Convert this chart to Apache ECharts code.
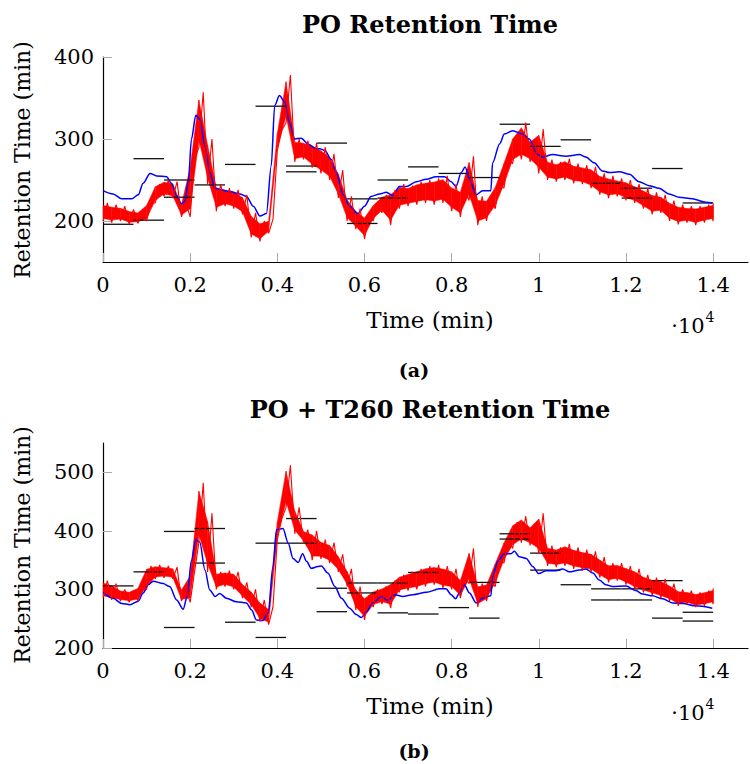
<!DOCTYPE html>
<html>
<head>
<meta charset="utf-8">
<title>Retention Time</title>
<script src="https://cdn.jsdelivr.net/npm/echarts@6/dist/echarts.min.js"></script>
<style>
html,body{margin:0;padding:0;background:#fff;}
#chart{width:750px;height:764px;}
</style>
</head>
<body>
<div id="chart"></div>
<script>
// tick values
var xTicks = [0, 2000, 4000, 6000, 8000, 10000, 12000, 14000];
var xTickLabels = ['0', '0.2', '0.4', '0.6', '0.8', '1', '1.2', '1.4'];
var yTicksA = [200, 300, 400];
var yTicksB = [200, 300, 400, 500];

// blue curve, PO  [time, value]
var blueA = [[0,237],[230,233],[430,227],[660,227],[810,232],[920,246],[1080,258],[1230,255],[1460,254],[1570,246],
  [1690,231],[1800,221],[1880,224],[1960,250],[2030,300],[2130,329],[2220,324],[2340,291],[2450,259],[2570,240],
  [2720,238],[2910,236],[3140,233],[3290,230],[3450,218],[3600,206],[3750,209],[3860,267],[3940,341],[4050,353],
  [4170,345],[4280,320],[4400,300],[4550,301],[4700,294],[4900,288],[4970,288],[5090,286],[5240,275],[5350,259],
  [5510,232],[5660,218],[5850,209],[6000,218],[6150,230],[6350,233],[6500,235],[6650,231],[6800,242],[6960,242],
  [7190,248],[7420,251],[7640,254],[7840,254],[7990,248],[8100,242],[8220,259],[8310,266],[8410,251],[8560,232],
  [8710,237],[8900,237],[8940,271],[9100,294],[9210,306],[9400,310],[9630,306],[9780,300],[9970,281],[10090,278],
  [10320,281],[10620,279],[10930,281],[11080,278],[11270,271],[11460,261],[11620,259],[11850,260],[12080,257],[12300,248],
  [12530,243],[12760,240],[12990,233],[13220,229],[13520,227],[13830,223],[13980,222]];

// blue curve, PO + T260
var blueB = [[0,295],[230,285],[430,276],[620,274],[810,280],[920,294],[1040,308],[1150,314],[1380,310],[1530,305],
  [1690,282],[1840,266],[1930,288],[2030,350],[2130,385],[2220,381],[2340,333],[2450,299],[2570,288],[2680,293],
  [2830,285],[3060,279],[3290,277],[3410,265],[3520,248],[3670,247],[3790,260],[3900,339],[3980,402],[4130,404],
  [4250,379],[4360,353],[4480,346],[4580,361],[4670,348],[4780,336],[4930,339],[5010,340],[5160,328],[5320,305],
  [5470,285],[5660,268],[5810,257],[5930,252],[6040,262],[6190,277],[6380,288],[6540,281],[6690,291],[6880,288],
  [7110,291],[7420,295],[7720,301],[7870,301],[7990,291],[8090,284],[8180,294],[8290,308],[8410,294],[8560,277],
  [8710,285],[8900,289],[8940,322],[9060,348],[9210,361],[9360,361],[9440,365],[9550,356],[9710,353],[9860,339],
  [10000,327],[10170,332],[10390,332],[10550,335],[10700,330],[10930,333],[11080,335],[11240,328],[11390,316],[11540,308],
  [11690,305],[12000,306],[12230,298],[12380,292],[12610,289],[12840,284],[13070,277],[13300,276],[13600,272],[13980,268]];

// red measured band, read every 200 min (low / high edge)
var redLoA = [200,198,200,196,197,200,222,230,228,205, 205,290,245,212,218,215,208,180,175,185,
  286,320,272,275,265,258,250,228,200,190, 178,200,210,195,215,218,220,222,220,222,
  212,205,225,195,200,215,240,270,275,272, 258,250,248,250,246,245,240,232,228,230,
  225,222,215,208,210,200,196,198,195,198, 200];
var redHiA = [222,220,218,214,212,222,245,250,248,222, 275,357,300,245,240,238,232,210,200,202,
  310,378,300,298,295,290,282,262,230,215, 208,222,232,238,245,243,248,250,252,255,
  245,240,279,230,228,245,275,305,320,300, 312,275,272,276,270,268,266,258,255,252,
  250,245,240,235,232,225,220,218,218,220, 222];
var redLoB = [285,282,280,278,280,300,318,320,318,280, 278,380,330,300,305,300,285,270,245,240,
  385,440,395,380,350,352,345,330,305,265, 248,270,275,268,295,298,300,305,308,302,
  300,285,310,270,280,305,345,370,380,375, 360,340,338,340,335,332,330,320,312,315,
  308,300,295,290,285,280,272,275,270,272, 275];
var redHiB = [315,310,300,298,305,340,342,340,338,302, 330,482,430,330,332,330,312,300,282,270,
  420,512,440,402,400,385,380,360,335,305, 290,300,305,315,325,330,335,340,342,340,
  335,320,370,310,312,350,385,415,425,410, 430,375,372,378,372,368,365,355,345,345,
  340,335,325,320,318,310,300,298,295,298, 302];

// horizontal segments, one per 700 min window
var segEdges = [0,700,1400,2100,2800,3500,4200,4900,5600,6300,7000,7700,8400,9100,9800,10500,11200,11900,12600,13300,14000];
var seg1A = [196,276,250,244,269,340,267,295,227,250,266,258,253,318,291,299,246,240,264,222];
var seg2A = [null,201,229,null,null,null,260,null,197,228,null,null,null,null,null,null,null,228,null,null];
var seg1B = [306,330,399,404,244,379,421,302,311,311,329,269,312,395,362,308,301,301,315,261];
var seg2B = [null,null,235,345,null,218,379,262,294,260,258,null,251,386,333,null,282,282,251,246];

var serif = "'DejaVu Serif', serif";
var redStep = 200;

// zigzag between the low and high edge of the red band
function redLine(lo, hi){
	var out = [];
	for(var i = 0; i < lo.length; i++){
		var t = i * redStep;
		out.push([t, lo[i]]);
		out.push([Math.min(t + redStep / 2, 14000), hi[i]]);
	}
	return out;
}

// quads for the solid core of the red band
function bandData(lo, hi){
	var d = [];
	for(var i = 0; i < lo.length - 1; i++){
		d.push([i * redStep, lo[i], hi[i], (i + 1) * redStep, lo[i+1], hi[i+1]]);
	}
	return d;
}

function renderBand(params, api){
	var t0 = api.value(0), l0 = api.value(1), h0 = api.value(2);
	var t1 = api.value(3), l1 = api.value(4), h1 = api.value(5);
	var k = 0.14;
	var pts = [
		api.coord([t0, l0 + (h0 - l0) * k]),
		api.coord([t0, h0 - (h0 - l0) * k]),
		api.coord([t1, h1 - (h1 - l1) * k]),
		api.coord([t1, l1 + (h1 - l1) * k])
	];
	return {type: 'polygon', shape: {points: pts}, style: {fill: '#ff0000', stroke: '#ff0000', lineWidth: 0.5}};
}

function segData(vals){
	var d = [];
	for(var i = 0; i < vals.length; i++){
		if(vals[i] != null) d.push([segEdges[i], segEdges[i+1], vals[i]]);
	}
	return d;
}

function renderSeg(params, api){
	var p0 = api.coord([api.value(0), api.value(2)]);
	var p1 = api.coord([api.value(1), api.value(2)]);
	return {
		type: 'line',
		shape: {x1: p0[0], y1: p0[1], x2: p1[0], y2: p1[1]},
		style: {stroke: '#111', lineWidth: 1.3}
	};
}

function xAxisFor(idx){
	return {
		type: 'value', gridIndex: idx, min: 0, max: 14800,
		axisLine: {show: true, lineStyle: {color: '#000', width: 1.2}},
		axisTick: {show: true, inside: true, length: 9, customValues: xTicks, lineStyle: {color: '#aaa', width: 1}},
		axisLabel: {
			customValues: xTicks, margin: 12, color: '#000', fontFamily: serif, fontSize: 21,
			formatter: function(v){ return xTickLabels[xTicks.indexOf(v)]; }
		},
		splitLine: {show: false}
	};
}

function yAxisFor(idx, min, max, ticks){
	return {
		type: 'value', gridIndex: idx, min: min, max: max,
		axisLine: {show: true, lineStyle: {color: '#000', width: 1.2}},
		axisTick: {show: true, inside: true, length: 9, customValues: ticks, lineStyle: {color: '#aaa', width: 1}},
		axisLabel: {customValues: ticks, margin: 9, color: '#000', fontFamily: serif, fontSize: 21},
		splitLine: {show: false}
	};
}

function lineSeries(idx, data, color, width, smooth){
	return {
		type: 'line', xAxisIndex: idx, yAxisIndex: idx, data: data,
		symbol: 'none', silent: true, animation: false,
		smooth: smooth || false, smoothMonotone: 'x',
		lineStyle: {color: color, width: width}
	};
}

function bandSeries(idx, lo, hi){
	return {
		type: 'custom', xAxisIndex: idx, yAxisIndex: idx, data: bandData(lo, hi),
		encode: {x: [0, 3], y: [1, 2, 4, 5]}, renderItem: renderBand, silent: true, animation: false
	};
}

function segSeries(idx, vals){
	return {
		type: 'custom', xAxisIndex: idx, yAxisIndex: idx, data: segData(vals),
		encode: {x: [0, 1], y: 2}, renderItem: renderSeg, silent: true, animation: false
	};
}

function txt(x, y, s, size, weight, rot){
	return {
		type: 'text', x: x, y: y, rotation: rot || 0,
		style: {text: s, fontFamily: serif, fontSize: size, fontWeight: weight || 'normal',
			fill: '#000', textAlign: 'center', textVerticalAlign: 'middle'}
	};
}

var myChart = echarts.init(document.getElementById('chart'), null, {renderer: 'svg'});
var option = {
	backgroundColor: '#fff',
	animation: false,
	grid: [
		{left: 103, top: 57, width: 645, height: 205},
		{left: 103, top: 443, width: 645, height: 205}
	],
	xAxis: [xAxisFor(0), xAxisFor(1)],
	yAxis: [yAxisFor(0, 150, 400, yTicksA), yAxisFor(1, 200, 550, yTicksB)],
	series: [
		lineSeries(0, blueA, '#0000ff', 1.5, 0.3),
		bandSeries(0, redLoA, redHiA),
		lineSeries(0, redLine(redLoA, redHiA), '#ff0000', 1.1),
		segSeries(0, seg1A),
		segSeries(0, seg2A),
		lineSeries(1, blueB, '#0000ff', 1.5, 0.3),
		bandSeries(1, redLoB, redHiB),
		lineSeries(1, redLine(redLoB, redHiB), '#ff0000', 1.1),
		segSeries(1, seg1B),
		segSeries(1, seg2B)
	],
	graphic: [
		txt(430, 24, 'PO Retention Time', 24, 'bold'),
		txt(430, 409, 'PO + T260 Retention Time', 24, 'bold'),
		txt(430, 320, 'Time (min)', 23),
		txt(430, 706, 'Time (min)', 23),
		txt(22, 160, 'Retention Time (min)', 22, 'normal', Math.PI / 2),
		txt(22, 545, 'Retention Time (min)', 22, 'normal', Math.PI / 2),
		txt(688, 326, '·10', 21),
		txt(710, 317, '4', 14),
		txt(688, 713, '·10', 21),
		txt(710, 704, '4', 14),
		txt(414, 370, '(a)', 19, 'bold'),
		txt(414, 751, '(b)', 19, 'bold')
	]
};
myChart.setOption(option);
</script>
</body>
</html>
